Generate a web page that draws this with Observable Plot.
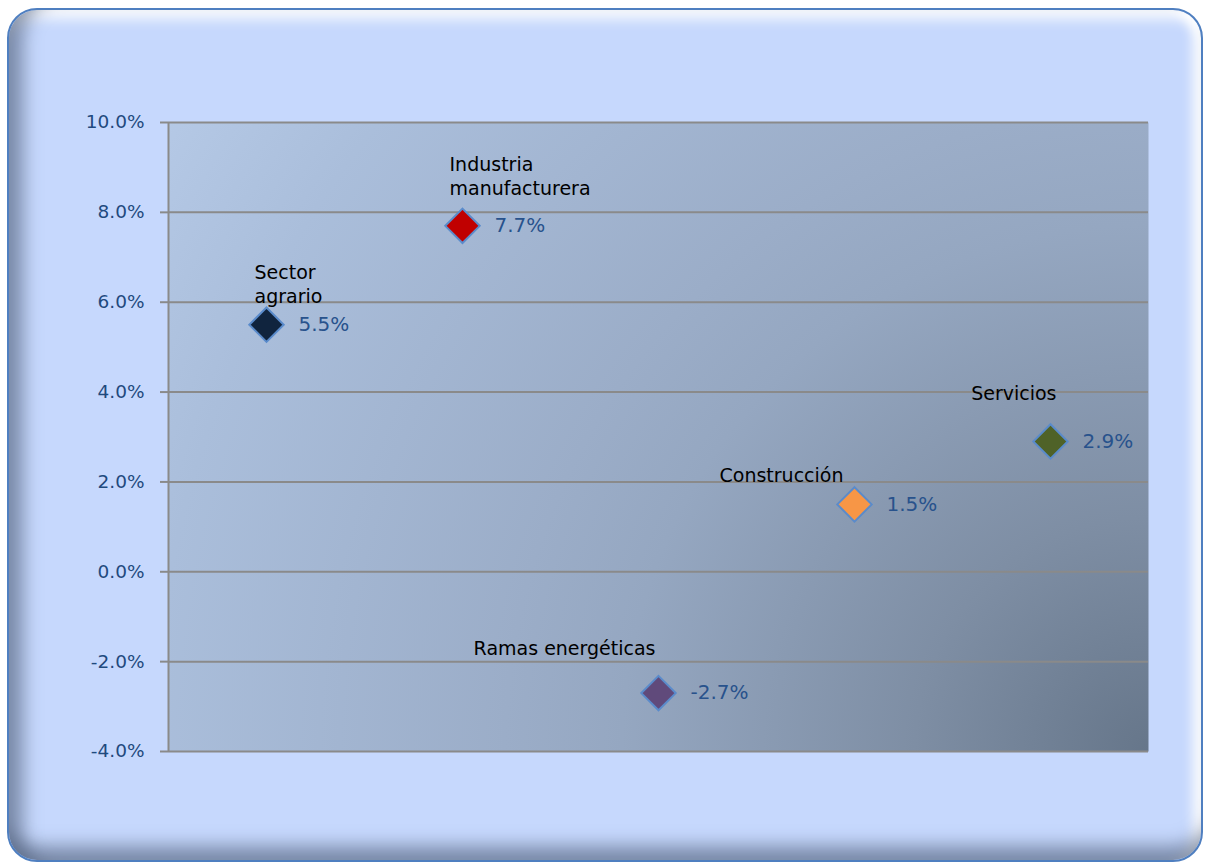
<!DOCTYPE html>
<html>
<head>
<meta charset="utf-8">
<script src="https://cdn.jsdelivr.net/npm/d3@7"></script>
<script src="https://cdn.jsdelivr.net/npm/@observablehq/plot@0.6"></script>
<style>
  html, body { margin: 0; padding: 0; background: #ffffff; width: 1207px; height: 863px; overflow: hidden; }
  #frame {
    position: absolute; left: 7px; top: 8px; width: 1196px; height: 854px;
    box-sizing: border-box; border: 2px solid #4f7fc0; border-radius: 30px;
    background: #c6d8fd;
    box-shadow:
      inset 26px 0 18px -12px rgba(85,100,128,0.65),
      inset 0 -26px 18px -12px rgba(85,100,128,0.65),
      inset -16px 0 12px -8px #ffffff,
      inset 0 18px 14px -10px #ffffff;
  }
  #chart { position: absolute; left: 0; top: 0; }
</style>
</head>
<body>
<div id="frame"></div>
<div id="chart"></div>
<script>
// ---- data ----
const categories = ["Sector agrario", "Industria manufacturera", "Ramas energéticas", "Construcción", "Servicios"];
const labels = ["Sector\nagrario", "Industria\nmanufacturera", "Ramas energéticas", "Construcción", "Servicios"];
const values = [5.5, 7.7, -2.7, 1.5, 2.9];
const colors = ["#10243e", "#c00000", "#604a7b", "#f79646", "#4f6228"];
const yTicks = [-4, -2, 0, 2, 4, 6, 8, 10];

const data = categories.map((c, i) => ({cat: c, idx: i + 1, label: labels[i], value: values[i], color: colors[i]}));

// label placement (style/position, not data)
const labelPlacement = {
  "Sector agrario": {textAnchor: "start", dx: -12, dy: -22},
  "Industria manufacturera": {textAnchor: "start", dx: -13, dy: -31},
  "Ramas energéticas": {textAnchor: "end", dx: -3, dy: -38},
  "Construcción": {textAnchor: "end", dx: -11, dy: -22},
  "Servicios": {textAnchor: "end", dx: 6, dy: -41}
};

const font = "'DejaVu Sans', Verdana, sans-serif";

const labelMarks = categories.map(c => Plot.text(data.filter(d => d.cat === c), {
  x: "idx", y: "value", text: "label",
  lineAnchor: "bottom", lineHeight: 1.25,
  fill: "#000000", fontSize: 19,
  ...labelPlacement[c]
}));

const chart = Plot.plot({
  width: 1207, height: 863,
  marginLeft: 168, marginRight: 59, marginTop: 122, marginBottom: 112,
  style: {background: "transparent", fontFamily: font, overflow: "visible"},
  x: {domain: [0.5, 5.5], axis: null},
  y: {domain: [-4, 10], ticks: yTicks, tickFormat: d => d.toFixed(1) + "%"},
  marks: [
    Plot.frame({fill: "url(#plotBg)", stroke: null}),
    Plot.ruleY(yTicks, {stroke: "#8a8a8a", strokeWidth: 2}),
    Plot.ruleX([0.5], {stroke: "#8a8a8a", strokeWidth: 2}),
    Plot.axisY({ticks: yTicks, tickFormat: d => d.toFixed(1) + "%", tickSize: 8, tickPadding: 16,
      stroke: "#8a8a8a", strokeWidth: 2, strokeOpacity: 1, fill: "#1f4a7e", fontSize: 18.5, label: null}),
    Plot.dot(data, {x: "idx", y: "value", symbol: "diamond2", r: 15.5,
      fill: d => d.color, stroke: "#5a8bcb", strokeWidth: 2}),
    Plot.text(data, {x: "idx", y: "value", text: d => d.value.toFixed(1) + "%",
      textAnchor: "start", dx: 32, fill: "#28528c", fontSize: 20}),
    ...labelMarks
  ]
});

// gradient for the plot area (darkening toward the bottom-right corner)
const defs = d3.select(chart).insert("defs", ":first-child");
const g = defs.append("radialGradient").attr("id", "plotBg")
  .attr("gradientUnits", "userSpaceOnUse")
  .attr("cx", 1148).attr("cy", 751).attr("r", 1170);
[[0, "#66768a"], [0.2, "#7e8ea4"], [0.45, "#95a7c1"], [0.55, "#9badc8"], [0.85, "#aabedb"], [1, "#b5c9e6"]]
  .forEach(([o, c]) => g.append("stop").attr("offset", o).attr("stop-color", c));

document.getElementById("chart").appendChild(chart);
</script>
</body>
</html>
